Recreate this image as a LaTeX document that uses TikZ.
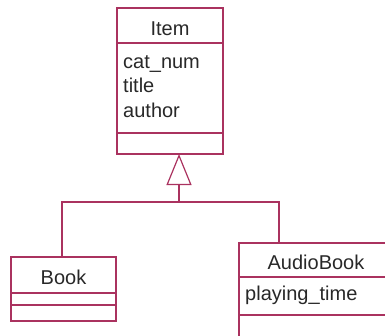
\documentclass[tikz,border=0pt]{standalone}
\usepackage{fontspec}
\setmainfont{Liberation Sans}
\usepackage{tikz}
\usetikzlibrary{arrows.meta}
\definecolor{umlred}{RGB}{170,50,95}
\definecolor{ink}{RGB}{40,40,40}
\tikzset{
  uml/box/.style={draw=umlred, line width=1.2pt, inner sep=0pt, outer sep=0pt, anchor=north west},
  uml/name/.style={anchor=base, font=\fontsize{20}{24}\selectfont, text=ink, inner sep=0pt},
  uml/attr/.style={anchor=base west, font=\fontsize{20}{24}\selectfont, text=ink, inner sep=0pt},
  uml/link/.style={draw=umlred, line width=1.2pt},
}
\begin{document}
\begin{tikzpicture}[x=1pt, y=-1pt]
  \useasboundingbox (0,0) rectangle (385,335);
  \clip (0,0) rectangle (385,335);
\node[uml/box, minimum width=106pt, minimum height=35pt] (item) at (117,8) {};
\node[uml/box, minimum width=106pt, minimum height=90pt] (item attrs) at (item.south west) {};
\node[uml/box, minimum width=106pt, minimum height=21pt] (item ops) at (item attrs.south west) {};
\node[uml/name] (item name) at (170,35) {Item};
\node[uml/attr] (cat num) at (123,68) {cat\_num};
\node[uml/attr] (title) at (123,92) {title};
\node[uml/attr] (author) at (123,117) {author};
\node[uml/box, minimum width=105pt, minimum height=36pt] (book) at (11,257) {};
\node[uml/box, minimum width=105pt, minimum height=12pt] (book attrs) at (book.south west) {};
\node[uml/box, minimum width=105pt, minimum height=16pt] (book ops) at (book attrs.south west) {};
\node[uml/name] (book name) at (63.5,284) {Book};
\node[uml/box, minimum width=154pt, minimum height=34pt] (audio) at (239,243) {};
\node[uml/box, minimum width=154pt, minimum height=38pt] (audio attrs) at (audio.south west) {};
\node[uml/box, minimum width=154pt, minimum height=40pt] (audio ops) at (audio attrs.south west) {};
\node[uml/name] (audio name) at (316,269) {AudioBook};
\node[uml/attr] (playing time) at (245,300) {playing\_time};
\coordinate (hub) at (179,202);
\draw[uml/link] ([xshift=51pt]book.north west) |- (hub) -| ([xshift=40pt]audio.north west);
\draw[uml/link, -{Triangle[open, length=31pt, width=25pt]}] (hub) -- (hub |- item ops.south);

\end{tikzpicture}
\end{document}
